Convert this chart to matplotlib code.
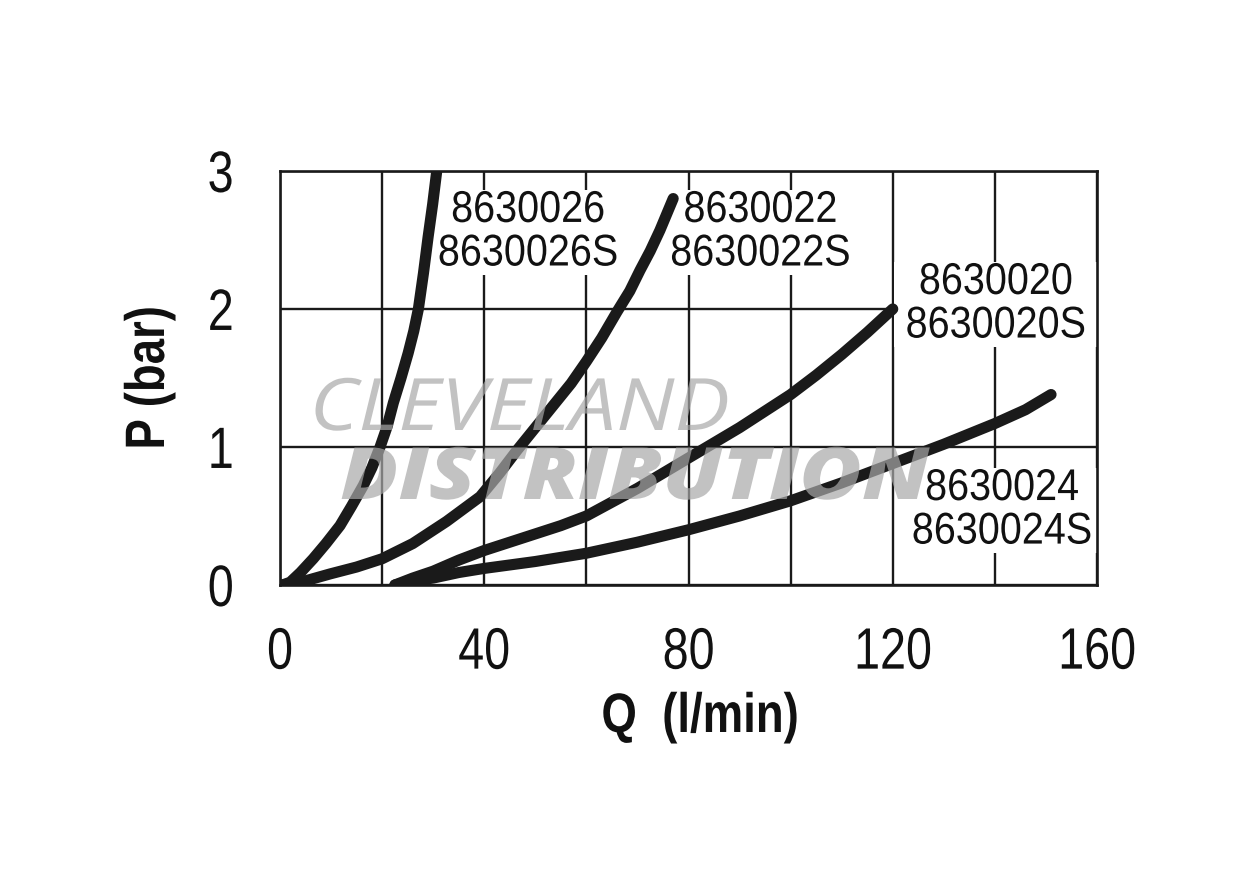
import matplotlib
matplotlib.use("Agg")
from matplotlib import pyplot as plt
from matplotlib.patheffects import AbstractPathEffect
from matplotlib.transforms import Affine2D

# =============================================================================
# Values: Q (l/min) vs P (bar)

q_026 = [0.5, 2, 4, 6.5, 9, 11.75, 14, 16.3, 18, 19.6, 21, 22.2, 23.7, 25.1,
         26.2, 27.1, 28.1, 29.0, 29.9, 30.7]
p_026 = [0.0, 0.02, 0.09, 0.19, 0.30, 0.43, 0.57, 0.72, 0.85, 1.0, 1.15,
         1.32, 1.50, 1.68, 1.84, 2.0, 2.26, 2.52, 2.76, 3.0]

q_022 = [0.5, 5, 9.8, 15, 20, 26, 32.6, 39.2, 43, 46.5, 50, 53.5, 57, 60,
         63, 66, 68.5, 70.5, 72.5, 74.4, 77]
p_022 = [0.0, 0.03, 0.08, 0.13, 0.19, 0.30, 0.46, 0.64, 0.81, 0.98, 1.14,
         1.30, 1.46, 1.62, 1.79, 1.98, 2.13, 2.28, 2.42, 2.57, 2.80]

q_020 = [22.5, 26, 30, 35, 40, 45, 50, 55, 60, 65, 70, 75, 80, 85, 90, 95,
         100, 105, 110, 115, 120]
p_020 = [0.0, 0.05, 0.10, 0.18, 0.25, 0.31, 0.37, 0.43, 0.50, 0.60, 0.70,
         0.81, 0.92, 1.03, 1.14, 1.26, 1.38, 1.52, 1.67, 1.83, 2.0]

q_024 = [22.5, 26, 30, 35, 40, 50, 60, 70, 80, 90, 100, 110, 120, 130, 140,
         146, 151]
p_024 = [0.0, 0.03, 0.05, 0.09, 0.12, 0.17, 0.23, 0.31, 0.40, 0.50, 0.61,
         0.74, 0.88, 1.02, 1.17, 1.27, 1.38]

labels = ["8630026\n8630026S", "8630022\n8630022S",
          "8630020\n8630020S", "8630024\n8630024S"]
label_pos = [(48.6, 2.556), (94.1, 2.556), (140.2, 2.034), (141.4, 0.541)]

x_ticks = [0, 40, 80, 120, 160]
x_grid = [20, 60, 100, 140]
y_ticks = [0, 1, 2, 3]


# =============================================================================
class Stretch(AbstractPathEffect):
    """Scale glyphs along the text direction about each line's centre
    (no narrow Arial installed, so fake one)."""

    def __init__(self, sx):
        super().__init__()
        self.sx = sx

    def draw_path(self, renderer, gc, tpath, affine, rgbFace=None):
        ext = tpath.get_extents()
        cx = (ext.x0 + ext.x1) / 2
        squeeze = Affine2D().translate(-cx, 0).scale(self.sx, 1).translate(cx, 0)
        renderer.draw_path(gc, tpath, squeeze + affine, rgbFace)


font = "Liberation Sans"

fig = plt.figure(figsize=(12.4, 8.74), dpi=100)
ax = fig.add_axes([0.2258, 0.3307, 0.6589, 0.4737])

for q, p in [(q_026, p_026), (q_022, p_022), (q_020, p_020), (q_024, p_024)]:
    ax.plot(q, p, color="#1a1a1a", lw=8, solid_capstyle="round",
            solid_joinstyle="round", zorder=3)

for lab, (x, y) in zip(labels, label_pos):
    ax.text(x, y, lab, ha="center", va="center", multialignment="center",
            fontsize=32, family=font, linespacing=1.08, color="#111111",
            zorder=2, path_effects=[Stretch(0.89)],
            bbox=dict(facecolor="white", edgecolor="none", pad=0))

ax.set_xlim(0, 160)
ax.set_ylim(0, 3)
ax.set_xticks(x_ticks)
ax.set_xticks(x_grid, minor=True)
ax.set_yticks(y_ticks)
ax.set_axisbelow(True)
ax.grid(True, which="both", color="#1a1a1a", lw=1.7)
ax.tick_params(which="both", length=0)
ax.tick_params(axis="x", pad=30)
ax.tick_params(axis="y", pad=31)
for lbl in ax.get_xticklabels() + ax.get_yticklabels():
    lbl.set_family(font)
    lbl.set_fontsize(42)
    lbl.set_color("#111111")
    lbl.set_path_effects([Stretch(0.8)])
for s in ax.spines.values():
    s.set_linewidth(1.9)
    s.set_color("#1a1a1a")

fig.text(700 / 1240, 1 - 718 / 874, "Q  (l/min)", ha="center", va="center",
         fontsize=40, fontweight="bold", family=font, color="#111111",
         path_effects=[Stretch(0.82)])
fig.text(150 / 1240, 1 - 378 / 874, "P (bar)", ha="center", va="center",
         rotation=90, fontsize=40, fontweight="bold", family=font,
         color="#111111", path_effects=[Stretch(0.82)])

# watermark
fig.text(520 / 1240, 1 - 430 / 874, "CLEVELAND", ha="center", va="baseline",
         fontsize=52, style="italic", fontweight="normal", family="Open Sans",
         color="#a8a8a8", alpha=0.7, zorder=10,
         path_effects=[Stretch(1.15)])
fig.text(635 / 1240, 1 - 499 / 874, "DISTRIBUTION", ha="center",
         va="baseline", fontsize=52, style="italic", fontweight=800,
         family="Open Sans", color="#a8a8a8", alpha=0.7, zorder=10,
         path_effects=[Stretch(1.18)])

fig.savefig("out.png", dpi=100)
